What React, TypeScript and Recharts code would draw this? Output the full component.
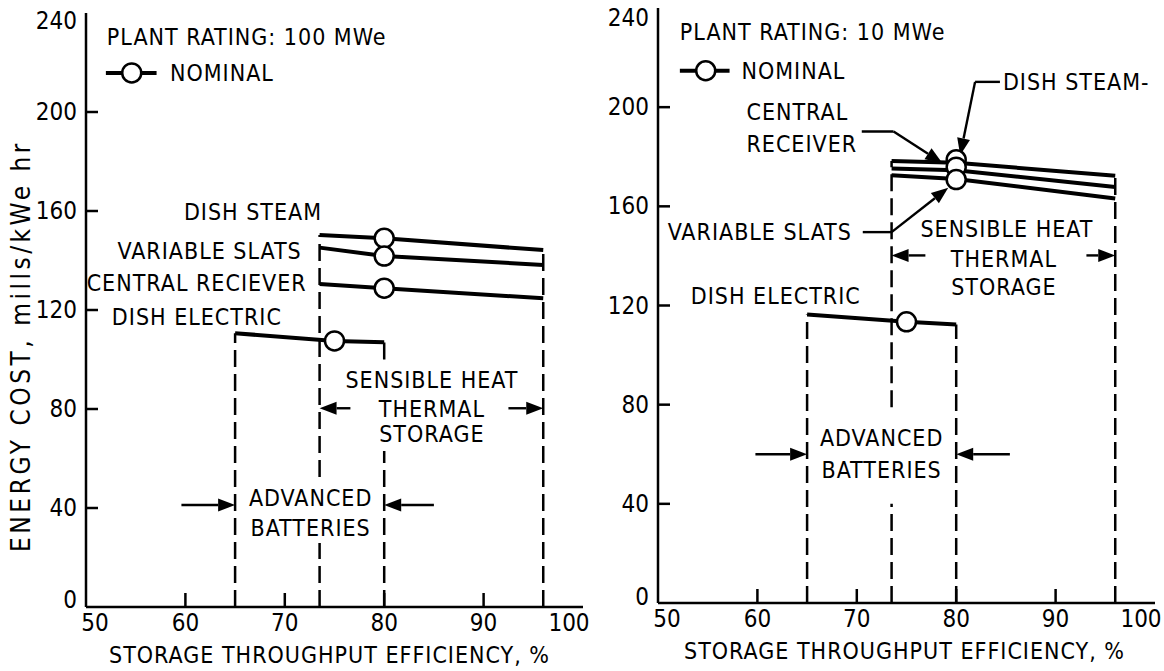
import React from 'react';
import { ComposedChart, Line, Scatter, XAxis, YAxis, ReferenceLine, ReferenceDot, Label } from 'recharts';

const FONT = "'Liberation Sans Narrow', 'DejaVu Sans Condensed', 'Liberation Sans', Arial, sans-serif";

const xTicks = [50, 60, 70, 80, 90, 100];
const yTicks = [0, 40, 80, 120, 160, 200, 240];
const xTitle = 'STORAGE THROUGHPUT EFFICIENCY, %';
const yTitle = 'ENERGY COST, mills/kWe hr';

// ---- 100 MWe panel ----
const dishSteam100 = [{ x: 73.5, y: 150.3 }, { x: 80, y: 149 }, { x: 96, y: 144.2 }];
const variableSlats100 = [{ x: 73.5, y: 145.2 }, { x: 80, y: 141.8 }, { x: 96, y: 138.2 }];
const centralReceiver100 = [{ x: 73.5, y: 130.5 }, { x: 80, y: 128.8 }, { x: 96, y: 124.7 }];
const dishElectric100 = [{ x: 65, y: 110.6 }, { x: 75, y: 107.5 }, { x: 80, y: 107 }];
const nominal100 = [{ x: 80, y: 149 }, { x: 80, y: 141.8 }, { x: 80, y: 128.8 }, { x: 75, y: 107.5 }];
const bounds100 = [
  [{ x: 65, y: 0 }, { x: 65, y: 110.6 }],
  [{ x: 73.5, y: 0 }, { x: 73.5, y: 25.9 }, { x: 73.5, y: null }, { x: 73.5, y: 52.5 }, { x: 73.5, y: 150.3 }],
  [{ x: 80, y: 0 }, { x: 80, y: 63 }, { x: 80, y: null }, { x: 80, y: 100 }, { x: 80, y: 107 }],
  [{ x: 96, y: 0 }, { x: 96, y: 144.2 }],
];

// ---- 10 MWe panel ----
const dishSteam10 = [{ x: 73.5, y: 178.3 }, { x: 80, y: 177.6 }, { x: 96, y: 172.3 }];
const centralReceiver10 = [{ x: 73.5, y: 175.3 }, { x: 80, y: 174.6 }, { x: 96, y: 167.8 }];
const variableSlats10 = [{ x: 73.5, y: 172.5 }, { x: 80, y: 171 }, { x: 96, y: 163.2 }];
const dishElectric10 = [{ x: 65, y: 116.4 }, { x: 75, y: 113.4 }, { x: 80, y: 112.3 }];
const nominal10 = [{ x: 80, y: 178.8 }, { x: 80, y: 175.8 }, { x: 80, y: 170.8 }, { x: 75, y: 113.4 }];
const bounds10 = [
  [{ x: 65, y: 0 }, { x: 65, y: 116.4 }],
  [{ x: 73.5, y: 0 }, { x: 73.5, y: 40 }, { x: 73.5, y: null }, { x: 73.5, y: 79 }, { x: 73.5, y: 178.3 }],
  [{ x: 80, y: 0 }, { x: 80, y: 112.3 }],
  [{ x: 96, y: 0 }, { x: 96, y: 172.3 }],
];

// annotations (data units)
const labels100 = [
  { t: 'PLANT RATING: 100 MWe', x: 52.1, y: 230.3, a: 'start' },
  { t: 'NOMINAL', x: 58.45, y: 215.6, a: 'start' },
  { t: 'DISH STEAM', x: 66.8, y: 159.6, a: 'middle' },
  { t: 'VARIABLE SLATS', x: 71.7, y: 144, a: 'end' },
  { t: 'CENTRAL RECIEVER', x: 72.2, y: 130.8, a: 'end' },
  { t: 'DISH ELECTRIC', x: 52.6, y: 117, a: 'start' },
  { t: 'SENSIBLE HEAT', x: 84.8, y: 91.7, a: 'middle' },
  { t: 'THERMAL', x: 84.8, y: 80.1, a: 'middle' },
  { t: 'STORAGE', x: 84.8, y: 69.9, a: 'middle' },
  { t: 'ADVANCED', x: 72.6, y: 43.9, a: 'middle' },
  { t: 'BATTERIES', x: 72.6, y: 31.8, a: 'middle' },
];
const arrows100 = [
  { x1: 76.6, y1: 80.3, x2: 73.5, y2: 80.3, head: true },
  { x1: 92.5, y1: 80.3, x2: 96, y2: 80.3, head: true },
  { x1: 59.6, y1: 41.2, x2: 65, y2: 41.2, head: true },
  { x1: 85, y1: 41.2, x2: 80, y2: 41.2, head: true },
];
const legend100 = { x1: 52.0, x2: 57.1, cx: 54.6, y: 215.8 };

const labels10 = [
  { t: 'PLANT RATING: 10 MWe', x: 52.2, y: 230.3, a: 'start' },
  { t: 'NOMINAL', x: 58.4, y: 214.7, a: 'start' },
  { t: 'CENTRAL', x: 58.9, y: 197.9, a: 'start' },
  { t: 'RECEIVER', x: 58.9, y: 185, a: 'start' },
  { t: 'DISH STEAM-', x: 84.7, y: 210, a: 'start' },
  { t: 'VARIABLE SLATS', x: 69.5, y: 149.6, a: 'end' },
  { t: 'DISH ELECTRIC', x: 61.85, y: 123.8, a: 'middle' },
  { t: 'SENSIBLE HEAT', x: 85.1, y: 150.7, a: 'middle' },
  { t: 'THERMAL', x: 84.8, y: 138.6, a: 'middle' },
  { t: 'STORAGE', x: 84.8, y: 127.3, a: 'middle' },
  { t: 'ADVANCED', x: 72.5, y: 66.6, a: 'middle' },
  { t: 'BATTERIES', x: 72.5, y: 53.8, a: 'middle' },
];
const arrows10 = [
  { x1: 76.9, y1: 140.2, x2: 73.5, y2: 140.2, head: true },
  { x1: 93.1, y1: 140.2, x2: 96, y2: 140.2, head: true },
  { x1: 59.8, y1: 60, x2: 65, y2: 60, head: true },
  { x1: 85.4, y1: 60, x2: 80, y2: 60, head: true },
  { x1: 70.5, y1: 190.2, x2: 73.7, y2: 190.2, head: false },
  { x1: 73.7, y1: 190.2, x2: 78.6, y2: 177.5, head: true },
  { x1: 84.4, y1: 210.2, x2: 81.9, y2: 210.2, head: false },
  { x1: 81.9, y1: 210.2, x2: 80.4, y2: 180.6, head: true },
  { x1: 70.6, y1: 149.6, x2: 73.5, y2: 149.6, head: false },
  { x1: 73.5, y1: 149.6, x2: 79.2, y2: 167.5, head: true },
];
const legend10 = { x1: 52.2, x2: 57.2, cx: 54.8, y: 214.7 };

const arrowShape = (head: boolean) => (p: any) => {
  const { x1, y1, x2, y2 } = p;
  const dx = x2 - x1;
  const dy = y2 - y1;
  const len = Math.sqrt(dx * dx + dy * dy) || 1;
  const ux = dx / len;
  const uy = dy / len;
  const L = head ? 17 : 0;
  const W = 6.5;
  const bx = x2 - ux * L;
  const by = y2 - uy * L;
  return (
    <g>
      <line x1={x1} y1={y1} x2={bx} y2={by} stroke="#000" strokeWidth={2.4} />
      {head && (
        <polygon
          points={`${x2},${y2} ${bx - uy * W},${by + ux * W} ${bx + uy * W},${by - ux * W}`}
          fill="#000"
        />
      )}
    </g>
  );
};

const textShape = (t: string, a: string) => (p: any) => (
  <text
    x={p.cx}
    y={p.cy}
    textAnchor={a}
    dominantBaseline="central"
    fontFamily={FONT}
    fontSize={23}
    letterSpacing={1}
    fill="#000"
  >
    {t}
  </text>
);

const circleShape = (p: any) => (
  <circle cx={p.cx} cy={p.cy} r={9.5} fill="#fff" stroke="#000" strokeWidth={2.5} />
);

const makeBottomTick = (dx0: number, dx1: number) => (p: any) => {
  const v = p.payload.value;
  const dx = v === 50 ? dx0 : v === 100 ? dx1 : 0;
  const inner = v !== 50 && v !== 100;
  return (
    <g>
      {inner && <line x1={p.x} x2={p.x} y1={p.y} y2={p.y - 14} stroke="#000" strokeWidth={2.5} />}
      <text x={p.x + dx} y={p.y + 16} textAnchor="middle" dominantBaseline="central" fontFamily={FONT} fontSize={24} fill="#000">
        {v}
      </text>
    </g>
  );
};
const topTick = (p: any) => {
  const v = p.payload.value;
  if (v === 50 || v === 100) return <g />;
  return <line x1={p.x} x2={p.x} y1={p.y} y2={p.y + 8} stroke="#000" strokeWidth={2.5} />;
};
const makeLeftTick = (dyTop: number, dyBot: number) => (p: any) => {
  const v = p.payload.value;
  const dy = v === 240 ? dyTop : v === 0 ? dyBot : 0;
  const inner = v !== 0 && v !== 240;
  return (
    <g>
      {inner && <line x1={p.x} x2={p.x + 12} y1={p.y} y2={p.y} stroke="#000" strokeWidth={2.5} />}
      <text x={p.x - 9} y={p.y + dy} textAnchor="end" dominantBaseline="central" fontFamily={FONT} fontSize={24} fill="#000">
        {v}
      </text>
    </g>
  );
};
const rightTick = (p: any) => {
  const v = p.payload.value;
  if (v === 0 || v === 240) return <g />;
  return <line x1={p.x} x2={p.x - 12} y1={p.y} y2={p.y} stroke="#000" strokeWidth={2.5} />;
};

type PanelProps = {
  width: number;
  margin: { top: number; right: number; left: number; bottom: number };
  yAxisWidth: number;
  xAxisHeight: number;
  series: { x: number; y: number }[][];
  nominal: { x: number; y: number }[];
  bounds: { x: number; y: number | null }[][];
  labels: { t: string; x: number; y: number; a: string }[];
  arrows: { x1: number; y1: number; x2: number; y2: number; head: boolean }[];
  legend: { x1: number; x2: number; cx: number; y: number };
  showYTitle: boolean;
  dyTop: number;
  dyBot: number;
  xTitleDx: number;
};

const axisLine = { stroke: '#000', strokeWidth: 2.5 };

function Panel(props: PanelProps) {
  const { width, margin, yAxisWidth, xAxisHeight, series, nominal, bounds, labels, arrows, legend } = props;
  return (
    <ComposedChart width={width} height={671} margin={margin}>
      <XAxis
        xAxisId={0}
        type="number"
        dataKey="x"
        domain={[50, 100]}
        ticks={xTicks}
        allowDataOverflow
        height={xAxisHeight}
        tickSize={0}
        tickMargin={0}
        tickLine={false}
        axisLine={axisLine}
        tick={makeBottomTick(9, -14)}
        interval={0}
      >
        <Label
          content={(lp: any) => {
            const vb = lp.viewBox;
            return (
              <text
                x={vb.x + vb.width / 2 + props.xTitleDx}
                y={vb.y + 48}
                textAnchor="middle"
                dominantBaseline="central"
                fontFamily={FONT}
                fontSize={23}
                letterSpacing={1}
                fill="#000"
              >
                {xTitle}
              </text>
            );
          }}
        />
      </XAxis>
      <XAxis
        xAxisId="top"
        orientation="top"
        type="number"
        dataKey="x"
        domain={[50, 100]}
        ticks={xTicks}
        allowDataOverflow
        height={0}
        tickSize={0}
        tickMargin={0}
        tickLine={false}
        axisLine={axisLine}
        tick={topTick}
        interval={0}
      />
      <YAxis
        yAxisId={0}
        type="number"
        dataKey="y"
        domain={[0, 240]}
        ticks={yTicks}
        allowDataOverflow
        width={yAxisWidth}
        tickSize={0}
        tickMargin={0}
        tickLine={false}
        axisLine={axisLine}
        tick={makeLeftTick(props.dyTop, props.dyBot)}
        interval={0}
      >
        {props.showYTitle && (
          <Label
            content={(lp: any) => {
              const vb = lp.viewBox;
              const cx = vb.x + 21;
              const cy = vb.y + vb.height / 2 + 36;
              return (
                <text
                  x={cx}
                  y={cy}
                  transform={`rotate(-90 ${cx} ${cy})`}
                  textAnchor="middle"
                  dominantBaseline="central"
                  fontFamily={FONT}
                  fontSize={26}
                  letterSpacing={3.5}
                  fill="#000"
                >
                  {yTitle}
                </text>
              );
            }}
          />
        )}
      </YAxis>
      <YAxis
        yAxisId="right"
        orientation="right"
        type="number"
        dataKey="y"
        domain={[0, 240]}
        ticks={yTicks}
        allowDataOverflow
        width={0}
        tickSize={0}
        tickMargin={0}
        tickLine={false}
        axisLine={axisLine}
        tick={rightTick}
        interval={0}
      />
      {bounds.map((b, i) => (
        <Line
          key={'b' + i}
          data={b}
          dataKey="y"
          stroke="#000"
          strokeWidth={2.5}
          strokeDasharray="17 7"
          dot={false}
          activeDot={false}
          isAnimationActive={false}
          connectNulls={false}
        />
      ))}
      {series.map((s, i) => (
        <Line
          key={'s' + i}
          data={s}
          dataKey="y"
          stroke="#000"
          strokeWidth={4}
          dot={false}
          activeDot={false}
          isAnimationActive={false}
        />
      ))}
      {arrows.map((a, i) => (
        <ReferenceLine
          key={'a' + i}
          segment={[{ x: a.x1, y: a.y1 }, { x: a.x2, y: a.y2 }]}
          ifOverflow="visible"
          shape={arrowShape(a.head)}
        />
      ))}
      <ReferenceLine
        segment={[{ x: legend.x1, y: legend.y }, { x: legend.x2, y: legend.y }]}
        ifOverflow="visible"
        stroke="#000"
        strokeWidth={4}
      />
      <ReferenceDot x={legend.cx} y={legend.y} r={9.5} ifOverflow="visible" shape={circleShape} />
      <Scatter data={nominal} dataKey="y" shape={circleShape} isAnimationActive={false} />
      {labels.map((l, i) => (
        <ReferenceDot key={'l' + i} x={l.x} y={l.y} r={1} ifOverflow="visible" shape={textShape(l.t, l.a)} />
      ))}
    </ComposedChart>
  );
}

export default function App() {
  return (
    <div style={{ position: 'fixed', left: 0, top: 0, width: 1164, height: 671, background: '#fff' }}>
      <div style={{ position: 'absolute', left: 0, top: 0 }}>
        <Panel
          width={600}
          margin={{ top: 13, right: 17, left: 0, bottom: 0 }}
          yAxisWidth={86}
          xAxisHeight={64}
          series={[dishSteam100, variableSlats100, centralReceiver100, dishElectric100]}
          nominal={nominal100}
          bounds={bounds100}
          labels={labels100}
          arrows={arrows100}
          legend={legend100}
          showYTitle={true}
          dyTop={8}
          dyBot={-7}
          xTitleDx={-5}
        />
      </div>
      <div style={{ position: 'absolute', left: 600, top: 0 }}>
        <Panel
          width={564}
          margin={{ top: 8, right: 9, left: 0, bottom: 0 }}
          yAxisWidth={58}
          xAxisHeight={68}
          series={[dishSteam10, centralReceiver10, variableSlats10, dishElectric10]}
          nominal={nominal10}
          bounds={bounds10}
          labels={labels10}
          arrows={arrows10}
          legend={legend10}
          showYTitle={false}
          dyTop={10}
          dyBot={-6}
          xTitleDx={-2}
        />
      </div>
    </div>
  );
}
